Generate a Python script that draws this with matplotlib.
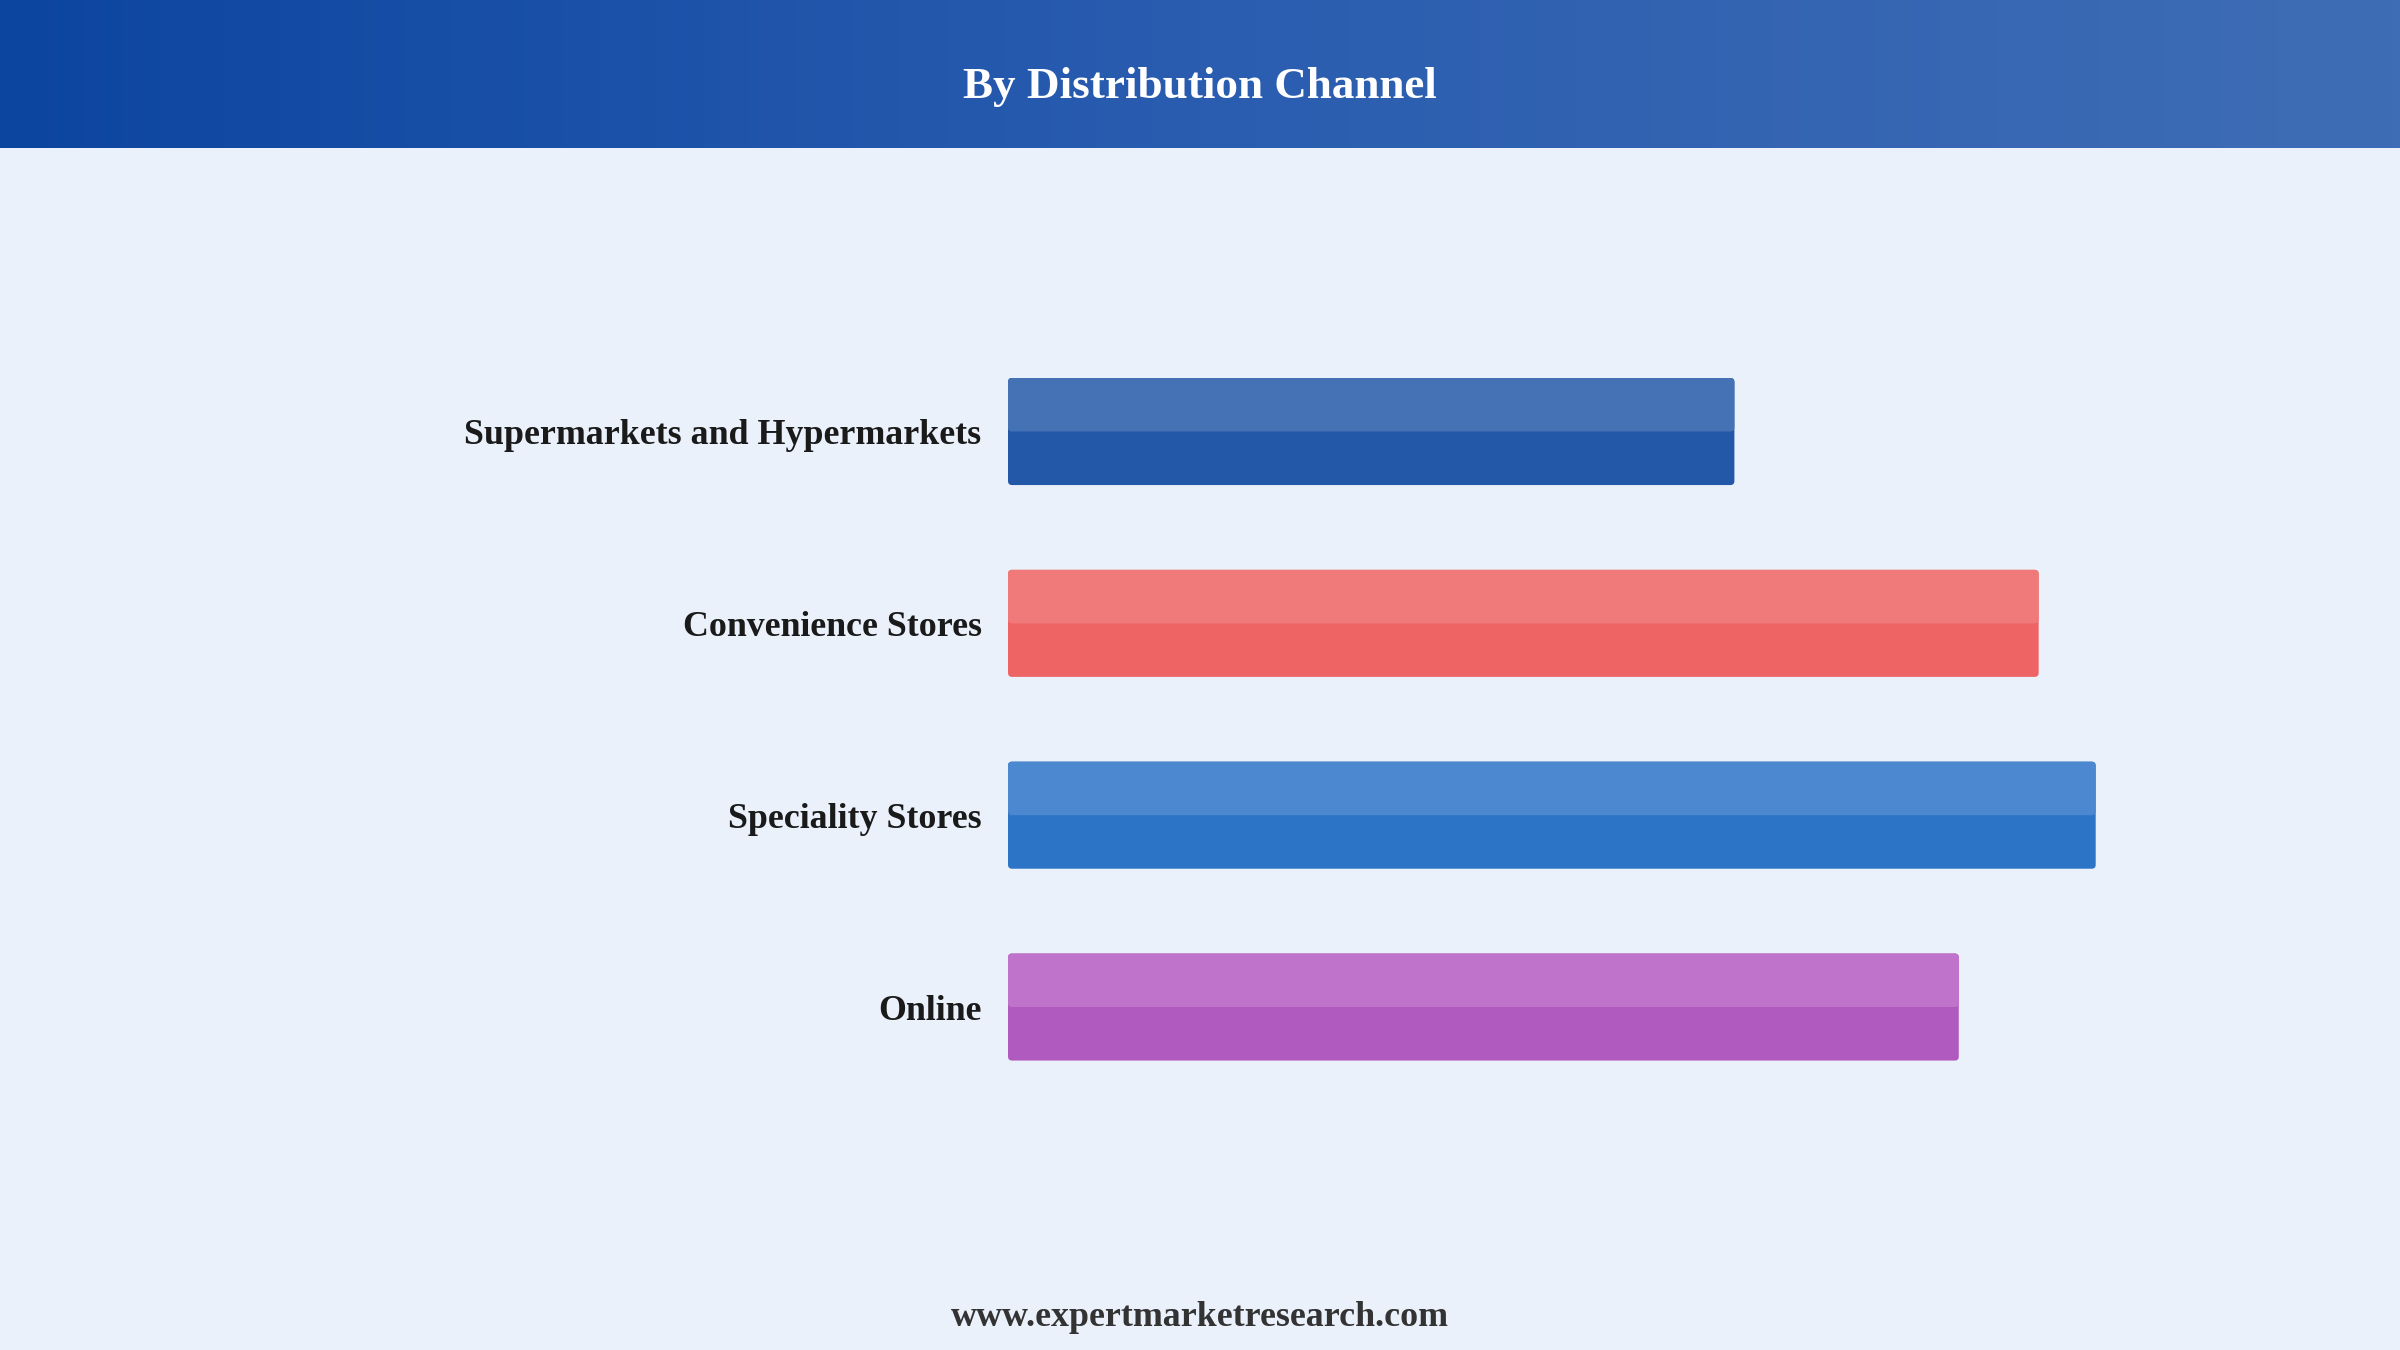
import matplotlib.pyplot as plt
import numpy as np
from matplotlib.patches import FancyBboxPatch
from matplotlib.colors import LinearSegmentedColormap

canaux = ["Supermarkets and Hypermarkets", "Convenience Stores", "Speciality Stores", "Online"]
parts = [19.1, 27.1, 28.6, 25.0]
couleurs_bas = ["#2358A8", "#EE6464", "#2B74C6", "#B05ABF"]
couleurs_haut = ["#4472B5", "#F07A7A", "#4C88CF", "#C073CB"]

titre = "By Distribution Channel"
site = "www.expertmarketresearch.com"
fond = "#EAF1FB"
police = ["Liberation Serif", "DejaVu Serif"]

fig = plt.figure(figsize=(24, 13.5), dpi=100)
fig.patch.set_facecolor(fond)

# bandeau du haut en degrade
bandeau = fig.add_axes([0, 1 - 148 / 1350, 1, 148 / 1350])
degrade = LinearSegmentedColormap.from_list("bandeau", ["#0C45A0", "#2A5DB0", "#3F6DB5"])
bandeau.imshow(np.linspace(0, 1, 256).reshape(1, -1), cmap=degrade, aspect="auto",
               extent=[0, 1, 0, 1])
bandeau.set_xlim(0, 1)
bandeau.set_ylim(0, 1)
bandeau.axis("off")
bandeau.text(0.5, 0.41, titre, color="white", fontsize=32.5, fontweight="bold",
             family=police, ha="center", va="center")

ax = fig.add_axes([0.42, 0.183, 0.4746, 0.5684])
ax.set_facecolor(fond)
y = np.arange(len(canaux))
h = 0.558
xmax = 29.95

barres = ax.barh(y, parts, height=h, color=couleurs_bas)
hautes = ax.barh(y - h / 4, parts, height=h / 2, color=couleurs_haut)

# coins arrondis : rayon ~4 px dans les deux sens
px_x = 1139 / xmax
px_y = 1350 * 0.5684 / 4
for b in list(barres) + list(hautes):
    x0, y0, w, hh = b.get_x(), b.get_y(), b.get_width(), b.get_height()
    b.set_visible(False)
    ax.add_patch(FancyBboxPatch((x0, y0), w, hh,
                                boxstyle="round,pad=0,rounding_size=%f" % (4 / px_x),
                                mutation_aspect=px_x / px_y, facecolor=b.get_facecolor(),
                                edgecolor="none", zorder=b.get_zorder() + 1))

ax.set_xlim(0, xmax)
ax.set_ylim(3.5, -0.5)
ax.set_yticks(y)
ax.set_yticklabels(canaux, fontsize=25.8, fontweight="bold", family=police, color="#1a1a1a")
ax.tick_params(axis="y", length=0, pad=19)
ax.set_xticks([])
for s in ax.spines.values():
    s.set_visible(False)

fig.text(0.5, 1 - 1318 / 1350, site, ha="center", va="center", fontsize=25.8,
         fontweight="bold", family=police, color="#333333")

plt.savefig("out.png", dpi=100, facecolor=fond)
